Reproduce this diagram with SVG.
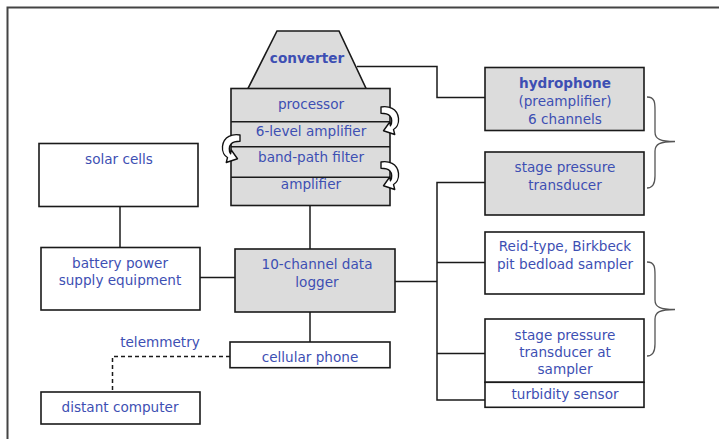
<svg xmlns="http://www.w3.org/2000/svg" width="719" height="439" viewBox="0 0 719 439">
  <style>
    .box { stroke: #1a1a1a; stroke-width: 1.6; }
    .grey { fill: #dcdcdc; }
    .white { fill: #ffffff; }
    .lbl { font-family: "DejaVu Sans", Verdana, sans-serif; font-size: 13.6px; fill: #3d4fb3; text-anchor: middle; }
    .bold { font-weight: bold; }
    .wire { fill: none; stroke: #1a1a1a; stroke-width: 1.5; }
    .dash { fill: none; stroke: #1a1a1a; stroke-width: 1.5; stroke-dasharray: 4 3; }
    .brace { fill: none; stroke: #555; stroke-width: 1.3; }
    .curl { fill: #ffffff; stroke: #111; stroke-width: 1.1; stroke-linejoin: round; }
  </style>
  <defs>
    <!-- curled hand-off arrow between stacked stages -->
    <path id="curl" d="M0,0 C6,-1 13,1 14,9 C14.5,14 12,17 10,18 L11,22 L2,19 L7,12 L7.5,15 C9,13 9,9 7,7 C5,5 3,5 0,5 Z"/>
  </defs>

  <rect width="719" height="439" fill="#ffffff"/>
  <!-- outer frame -->
  <path d="M7.5,439 V7.5 H719" fill="none" stroke="#444" stroke-width="2"/>

  <g id="connectors">
    <path class="wire" d="M357,66.5 H437 V97.5 H485"/>
    <path class="wire" d="M485,182.5 H437 V400 H485"/>
    <path class="wire" d="M437,262.5 H485"/>
    <path class="wire" d="M437,353.5 H485"/>
    <path class="wire" d="M395,281.5 H437"/>
    <path class="wire" d="M200,277.5 H235"/>
    <path class="wire" d="M120,206.5 V247.5"/>
    <path class="wire" d="M310,205.5 V249"/>
    <path class="wire" d="M310,312 V342"/>
    <path class="dash" d="M230,356.5 H112.5 V392"/>
    <!-- grouping braces -->
    <path class="brace" d="M647,97 C655,97 655,103 655,110 V132 C655,139 660,141.5 675,141.5 C660,141.5 655,144 655,151 V176 C655,184 653,188 647,188"/>
    <path class="brace" d="M647,262 C655,262 655,268 655,275 V300 C655,307 660,309.5 675,309.5 C660,309.5 655,312 655,319 V344 C655,352 653,356 647,356"/>
  </g>

  <g id="converter">
    <polygon class="box grey" points="277,31 339,31 367,90.5 247,90.5"/>
    <text class="lbl bold" x="307" y="62.5">converter</text>
  </g>

  <g id="processor-stack">
    <rect class="box grey" x="231" y="88.5" width="159" height="117"/>
    <line class="box" x1="231" y1="121.7" x2="390" y2="121.7"/>
    <line class="box" x1="231" y1="146.7" x2="390" y2="146.7"/>
    <line class="box" x1="231" y1="177.3" x2="390" y2="177.3"/>
    <text class="lbl" x="311" y="108.5">processor</text>
    <text class="lbl" x="311" y="135.5">6-level amplifier</text>
    <text class="lbl" x="311" y="162">band-path filter</text>
    <text class="lbl" x="311" y="188.5">amplifier</text>
    <use href="#curl" class="curl" transform="translate(381,107) scale(1.25)"/>
    <use href="#curl" class="curl" transform="translate(381,162) scale(1.25)"/>
    <use href="#curl" class="curl" transform="translate(240,135) scale(-1.25,1.25)"/>
  </g>

  <g id="hydrophone">
    <rect class="box grey" x="485" y="67.5" width="159" height="63"/>
    <text class="lbl bold" x="565" y="88">hydrophone</text>
    <text class="lbl" x="565" y="106">(preamplifier)</text>
    <text class="lbl" x="565" y="123.5">6 channels</text>
  </g>

  <g id="stage-pressure">
    <rect class="box grey" x="485" y="152" width="159" height="63"/>
    <text class="lbl" x="565" y="172">stage pressure</text>
    <text class="lbl" x="565" y="189.5">transducer</text>
  </g>

  <g id="bedload-sampler">
    <rect class="box white" x="485" y="232" width="159" height="62"/>
    <text class="lbl" x="565" y="250.5">Reid-type, Birkbeck</text>
    <text class="lbl" x="565" y="268.5">pit bedload sampler</text>
  </g>

  <g id="sampler-pressure">
    <rect class="box white" x="485" y="319" width="159" height="63.3"/>
    <text class="lbl" x="565" y="339.5">stage pressure</text>
    <text class="lbl" x="565" y="357">transducer at</text>
    <text class="lbl" x="565" y="374">sampler</text>
  </g>

  <g id="turbidity-sensor">
    <rect class="box white" x="485" y="382.3" width="159" height="25"/>
    <text class="lbl" x="565" y="398.5">turbidity sensor</text>
  </g>

  <g id="solar-cells">
    <rect class="box white" x="39" y="143.5" width="159" height="63"/>
    <text class="lbl" x="119" y="163.5">solar cells</text>
  </g>

  <g id="battery">
    <rect class="box white" x="41" y="247.5" width="159" height="62.5"/>
    <text class="lbl" x="120" y="267.5">battery power</text>
    <text class="lbl" x="120" y="285">supply equipment</text>
  </g>

  <g id="data-logger">
    <rect class="box grey" x="235" y="249" width="160" height="63"/>
    <text class="lbl" x="317" y="268.5">10-channel data</text>
    <text class="lbl" x="317" y="286.5">logger</text>
  </g>

  <g id="cellular-phone">
    <rect class="box white" x="230" y="342" width="160" height="25.7"/>
    <text class="lbl" x="310" y="361.5">cellular phone</text>
  </g>

  <text class="lbl" x="160" y="347">telemmetry</text>

  <g id="distant-computer">
    <rect class="box white" x="41" y="392" width="159" height="32"/>
    <text class="lbl" x="120" y="411.5">distant computer</text>
  </g>
</svg>
